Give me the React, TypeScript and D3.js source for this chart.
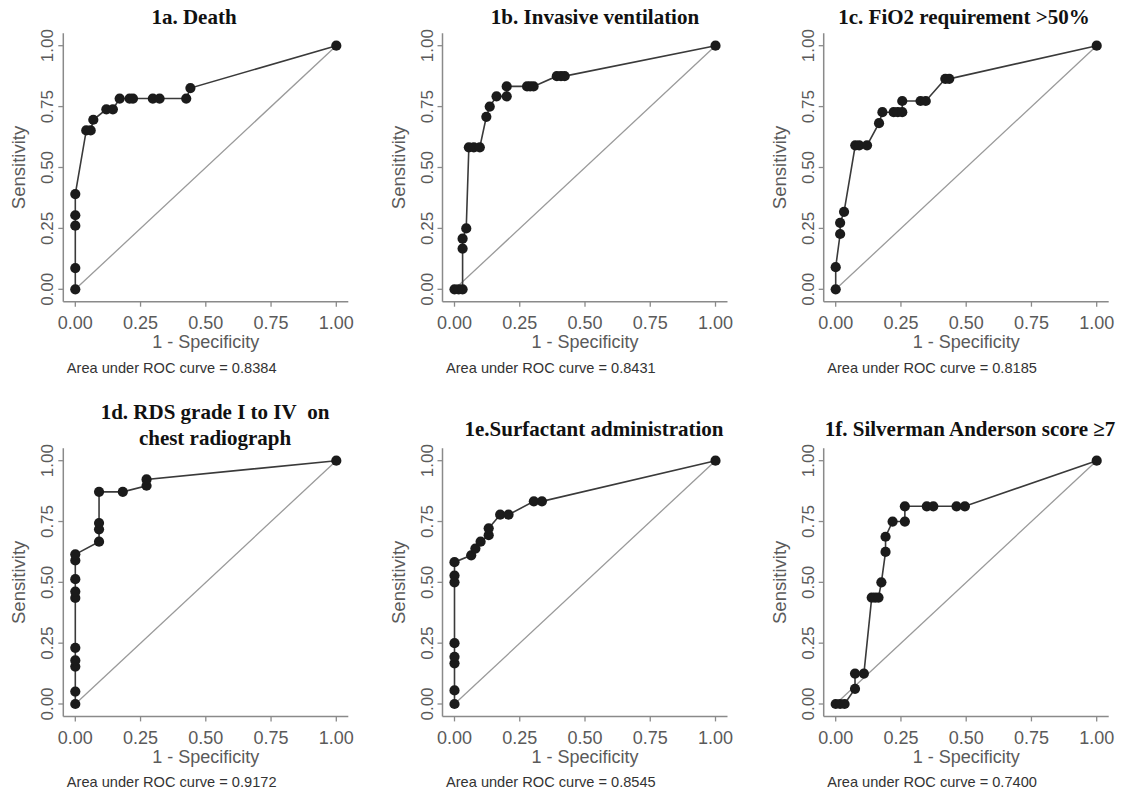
import React from 'react';
import * as d3 from 'd3';

// ---- data ----
const axisTicks = [0, 0.25, 0.5, 0.75, 1];
const tickLabels = ['0.00', '0.25', '0.50', '0.75', '1.00'];

const deathFpr = [0, 0, 0, 0, 0, 0.042, 0.059, 0.069, 0.119, 0.144, 0.17, 0.208, 0.221, 0.297, 0.323, 0.425, 0.441, 1];
const deathTpr = [0, 0.087, 0.261, 0.304, 0.391, 0.652, 0.652, 0.696, 0.739, 0.739, 0.783, 0.783, 0.783, 0.783, 0.783, 0.783, 0.826, 1];

const ventFpr = [0, 0.016, 0.031, 0.031, 0.031, 0.045, 0.055, 0.074, 0.097, 0.122, 0.135, 0.161, 0.2, 0.2, 0.278, 0.29, 0.303, 0.392, 0.408, 0.422, 1];
const ventTpr = [0, 0, 0, 0.167, 0.208, 0.25, 0.583, 0.583, 0.583, 0.708, 0.75, 0.792, 0.792, 0.833, 0.833, 0.833, 0.833, 0.875, 0.875, 0.875, 1];

const fio2Fpr = [0, 0, 0.017, 0.017, 0.032, 0.075, 0.09, 0.12, 0.166, 0.179, 0.222, 0.238, 0.255, 0.255, 0.325, 0.345, 0.42, 0.435, 1];
const fio2Tpr = [0, 0.091, 0.227, 0.273, 0.318, 0.591, 0.591, 0.591, 0.682, 0.727, 0.727, 0.727, 0.727, 0.773, 0.773, 0.773, 0.864, 0.864, 1];

const rdsFpr = [0, 0, 0, 0, 0, 0, 0, 0, 0, 0, 0.091, 0.091, 0.091, 0.091, 0.182, 0.273, 0.273, 1];
const rdsTpr = [0, 0.051, 0.154, 0.179, 0.231, 0.436, 0.462, 0.513, 0.59, 0.615, 0.667, 0.718, 0.744, 0.872, 0.872, 0.897, 0.923, 1];

const surfFpr = [0, 0, 0, 0, 0, 0, 0, 0, 0.064, 0.08, 0.1, 0.131, 0.131, 0.175, 0.207, 0.304, 0.335, 1];
const surfTpr = [0, 0.056, 0.167, 0.194, 0.25, 0.5, 0.528, 0.583, 0.611, 0.639, 0.667, 0.694, 0.722, 0.778, 0.778, 0.833, 0.833, 1];

const silvFpr = [0, 0.017, 0.034, 0.074, 0.074, 0.108, 0.138, 0.151, 0.164, 0.175, 0.191, 0.191, 0.218, 0.265, 0.265, 0.349, 0.374, 0.463, 0.495, 1];
const silvTpr = [0, 0, 0, 0.0625, 0.125, 0.125, 0.4375, 0.4375, 0.4375, 0.5, 0.625, 0.6875, 0.75, 0.75, 0.8125, 0.8125, 0.8125, 0.8125, 0.8125, 1];

const panelTitles = [
  ['1a. Death'],
  ['1b. Invasive ventilation'],
  ['1c. FiO2 requirement >50%'],
  ['1d. RDS grade I to IV\u00a0\u00a0on', 'chest radiograph'],
  ['1e.Surfactant administration'],
  ['1f. Silverman Anderson score \u22657'],
];
const aucValues = ['0.8384', '0.8431', '0.8185', '0.9172', '0.8545', '0.7400'];
const seriesFpr = [deathFpr, ventFpr, fio2Fpr, rdsFpr, surfFpr, silvFpr];
const seriesTpr = [deathTpr, ventTpr, fio2Tpr, rdsTpr, surfTpr, silvTpr];

// ---- layout ----
const colX0 = [75.3, 454.5, 835.7];
const rowY = [
  { bottom: 289.3, top: 45.7 },
  { bottom: 704, top: 460.7 },
];
const PW = 261;
const titleLayout = [
  { cx: 194, y: [23.5] },
  { cx: 595, y: [23.5] },
  { cx: 964, y: [23.5] },
  { cx: 215, y: [419, 445] },
  { cx: 594, y: [436] },
  { cx: 970, y: [436] },
];

const AXIS_COL = '#8a8a8a';
const TEXT_COL = '#5a5a5a';

function Panel({ idx }: { idx: number }) {
  const col = idx % 3;
  const row = Math.floor(idx / 3);
  const x0 = colX0[col];
  const { bottom, top } = rowY[row];
  const x = d3.scaleLinear().domain([0, 1]).range([x0, x0 + PW]);
  const y = d3.scaleLinear().domain([0, 1]).range([bottom, top]);
  const axX = x0 - 12;
  const axY = bottom + 12.4;
  const fpr = seriesFpr[idx];
  const tpr = seriesTpr[idx];
  const pts: [number, number][] = fpr.map((f, i) => [f, tpr[i]]);
  const line = d3
    .line<[number, number]>()
    .x((d) => x(d[0]))
    .y((d) => y(d[1]));
  const tl = titleLayout[idx];
  return (
    <g>
      {panelTitles[idx].map((t, i) => (
        <text
          key={i}
          x={tl.cx}
          y={tl.y[i]}
          textAnchor="middle"
          fontFamily="'Liberation Serif', 'Times New Roman', serif"
          fontWeight="bold"
          fontSize={21}
          fill="#111"
        >
          {t}
        </text>
      ))}
      {/* axes */}
      <line x1={axX} x2={axX} y1={y(1) - 12.5} y2={axY} stroke={AXIS_COL} strokeWidth={1.5} />
      <line x1={axX} x2={x(1) + 12} y1={axY} y2={axY} stroke={AXIS_COL} strokeWidth={1.5} />
      {axisTicks.map((t, i) => (
        <g key={'y' + i}>
          <line x1={axX - 5} x2={axX} y1={y(t)} y2={y(t)} stroke={AXIS_COL} strokeWidth={1.3} />
          <text
            transform={`translate(${axX - 10},${y(t)}) rotate(-90)`}
            textAnchor="middle"
            fontFamily="'Liberation Sans', Arial, sans-serif"
            fontSize={17}
            fill={TEXT_COL}
          >
            {tickLabels[i]}
          </text>
        </g>
      ))}
      {axisTicks.map((t, i) => (
        <g key={'x' + i}>
          <line x1={x(t)} x2={x(t)} y1={axY} y2={axY + 5} stroke={AXIS_COL} strokeWidth={1.3} />
          <text
            x={x(t)}
            y={axY + 27.5}
            textAnchor="middle"
            fontFamily="'Liberation Sans', Arial, sans-serif"
            fontSize={18}
            fill={TEXT_COL}
          >
            {tickLabels[i]}
          </text>
        </g>
      ))}
      <text
        transform={`translate(${axX - 38},${(y(0) + y(1)) / 2}) rotate(-90)`}
        textAnchor="middle"
        fontFamily="'Liberation Sans', Arial, sans-serif"
        fontSize={18.5}
        fill={TEXT_COL}
      >
        Sensitivity
      </text>
      <text
        x={(x(0) + x(1)) / 2}
        y={axY + 46.5}
        textAnchor="middle"
        fontFamily="'Liberation Sans', Arial, sans-serif"
        fontSize={18}
        fill={TEXT_COL}
      >
        1 - Specificity
      </text>
      <text
        x={axX + 3.5}
        y={axY + 71}
        fontFamily="'Liberation Sans', Arial, sans-serif"
        fontSize={14.6}
        fill="#333"
      >
        {`Area under ROC curve = ${aucValues[idx]}`}
      </text>
      {/* reference diagonal */}
      <line x1={x(0)} y1={y(0)} x2={x(1)} y2={y(1)} stroke="#9a9a9a" strokeWidth={1.3} />
      {/* ROC curve */}
      <path d={line(pts) || ''} fill="none" stroke="#3a3a3a" strokeWidth={1.6} />
      {pts.map((p, i) => (
        <circle key={i} cx={x(p[0])} cy={y(p[1])} r={5.1} fill="#1b1b1b" />
      ))}
    </g>
  );
}

export default function App() {
  return (
    <svg
      width={1125}
      height={795}
      style={{ position: 'absolute', left: 0, top: 0, background: '#fff' }}
    >
      <rect width={1125} height={795} fill="#fff" />
      {[0, 1, 2, 3, 4, 5].map((i) => (
        <Panel key={i} idx={i} />
      ))}
    </svg>
  );
}
